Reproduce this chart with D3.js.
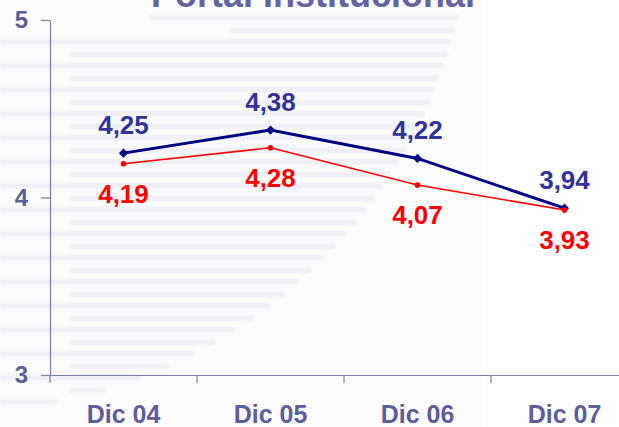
<!DOCTYPE html>
<html>
<head>
<meta charset="utf-8">
<script src="https://cdn.jsdelivr.net/npm/d3@7"></script>
<style>
  body { margin: 0; background: #fff; }
  svg { display: block; font-family: "Liberation Sans", Arial, sans-serif; }
</style>
</head>
<body>
<svg width="619" height="427"></svg>
<script>
const categories = ["Dic 04", "Dic 05", "Dic 06", "Dic 07"];
const serieAzul = [4.25, 4.38, 4.22, 3.94];
const serieRoja = [4.19, 4.28, 4.07, 3.93];
const yTicks = [3, 4, 5];
const titulo = "Portal Institucional";

const svg = d3.select("svg");
const svgWidth = +svg.attr("width");
const svgHeight = +svg.attr("height");

const fmt = (v) => d3.format(".2f")(v).replace(".", ",");

// fondo decorativo (rayas claras)
const defs = svg.append("defs");
defs.append("filter").attr("id", "blur")
  .append("feGaussianBlur").attr("stdDeviation", 1.2);

const bg = svg.append("g");
bg.append("rect")
  .attr("x", 0).attr("y", 0)
  .attr("width", 482).attr("height", svgHeight)
  .attr("fill", "#fcfcfd");

const rayas = bg.append("g").attr("filter", "url(#blur)");
const cx = -44, cy = -105, r = 517;
for (let k = 0; k <= 32; k++) {
  const yy = 18 + 12 * k;
  const xEnd = cx + Math.sqrt(Math.max(0, r * r - (yy - cy) * (yy - cy)));
  let xStart = k % 2 === 0 ? 0 : 70;
  if (k === 0) xStart = 150;
  if (k === 1) xStart = 230;
  if (k === 2 || k === 4) xStart = 0;
  if (xEnd <= xStart) continue;
  rayas.append("rect")
    .attr("x", xStart)
    .attr("y", yy - 3)
    .attr("width", xEnd - xStart)
    .attr("height", 6)
    .attr("rx", 3)
    .attr("fill", "#e4e4ef")
    .attr("opacity", 0.55);
}

const render = () => {
  const xScale = d3.scaleBand()
    .domain(categories)
    .range([50, 638])
    .padding(0);

  const yScale = d3.scaleLinear()
    .domain([3, 5])
    .range([375, 20]);

  const xc = (d) => xScale(d) + xScale.bandwidth() / 2;
  const axisColor = "#7c7cae";
  const textColor = "#5e5e99";

  // eje Y
  const yAxis = svg.append("g")
    .attr("transform", "translate(50,0)")
    .call(d3.axisLeft(yScale).tickValues(yTicks).tickFormat(d3.format("d"))
      .tickSize(9).tickSizeOuter(0).tickPadding(13));
  yAxis.select(".domain").attr("stroke", axisColor).attr("stroke-width", 1.2);
  yAxis.selectAll(".tick line").attr("stroke", axisColor).attr("stroke-width", 1.2);
  yAxis.selectAll(".tick text")
    .attr("fill", textColor)
    .attr("font-size", 24)
    .attr("font-weight", "bold");

  // eje X
  const xAxis = svg.append("g")
    .attr("transform", "translate(0,375)")
    .call(d3.axisBottom(xScale).tickSize(0).tickSizeOuter(0).tickPadding(30));
  xAxis.select(".domain").attr("stroke", axisColor).attr("stroke-width", 1.2);
  xAxis.selectAll(".tick text")
    .attr("fill", textColor)
    .attr("font-size", 25)
    .attr("font-weight", "bold");
  xAxis.selectAll(".edge")
    .data(categories)
    .enter()
    .append("line")
    .attr("x1", (d) => xScale(d))
    .attr("x2", (d) => xScale(d))
    .attr("y1", 0)
    .attr("y2", 8)
    .attr("stroke", axisColor)
    .attr("stroke-width", 1.2);

  const line = d3.line()
    .x((d, i) => xc(categories[i]))
    .y((d) => yScale(d));

  // serie azul
  svg.append("path")
    .datum(serieAzul)
    .attr("d", line)
    .attr("fill", "none")
    .attr("stroke", "#000080")
    .attr("stroke-width", 3);

  svg.selectAll(".mAzul")
    .data(serieAzul)
    .enter()
    .append("path")
    .attr("d", d3.symbol().type(d3.symbolSquare).size(42))
    .attr("transform", (d, i) => `translate(${xc(categories[i])},${yScale(d)}) rotate(45)`)
    .attr("fill", "#000080");

  // serie roja
  svg.append("path")
    .datum(serieRoja)
    .attr("d", line)
    .attr("fill", "none")
    .attr("stroke", "#ff0000")
    .attr("stroke-width", 1.5);

  svg.selectAll(".mRoja")
    .data(serieRoja)
    .enter()
    .append("circle")
    .attr("cx", (d, i) => xc(categories[i]))
    .attr("cy", (d) => yScale(d))
    .attr("r", 2.8)
    .attr("fill", "#ff0000");

  // etiquetas
  svg.selectAll(".lAzul")
    .data(serieAzul)
    .enter()
    .append("text")
    .attr("x", (d, i) => xc(categories[i]))
    .attr("y", (d) => yScale(d) - 19)
    .attr("text-anchor", "middle")
    .attr("font-size", 26)
    .attr("font-weight", "bold")
    .attr("fill", "#333399")
    .text(fmt);

  svg.selectAll(".lRoja")
    .data(serieRoja)
    .enter()
    .append("text")
    .attr("x", (d, i) => xc(categories[i]))
    .attr("y", (d) => yScale(d) + 39)
    .attr("text-anchor", "middle")
    .attr("font-size", 26)
    .attr("font-weight", "bold")
    .attr("fill", "#ff0000")
    .text(fmt);

  // titulo (cortado arriba)
  svg.append("text")
    .attr("x", 313)
    .attr("y", 7)
    .attr("text-anchor", "middle")
    .attr("font-size", 36)
    .attr("font-weight", "bold")
    .attr("fill", "#6464a0")
    .text(titulo);
};

render();
</script>
</body>
</html>
